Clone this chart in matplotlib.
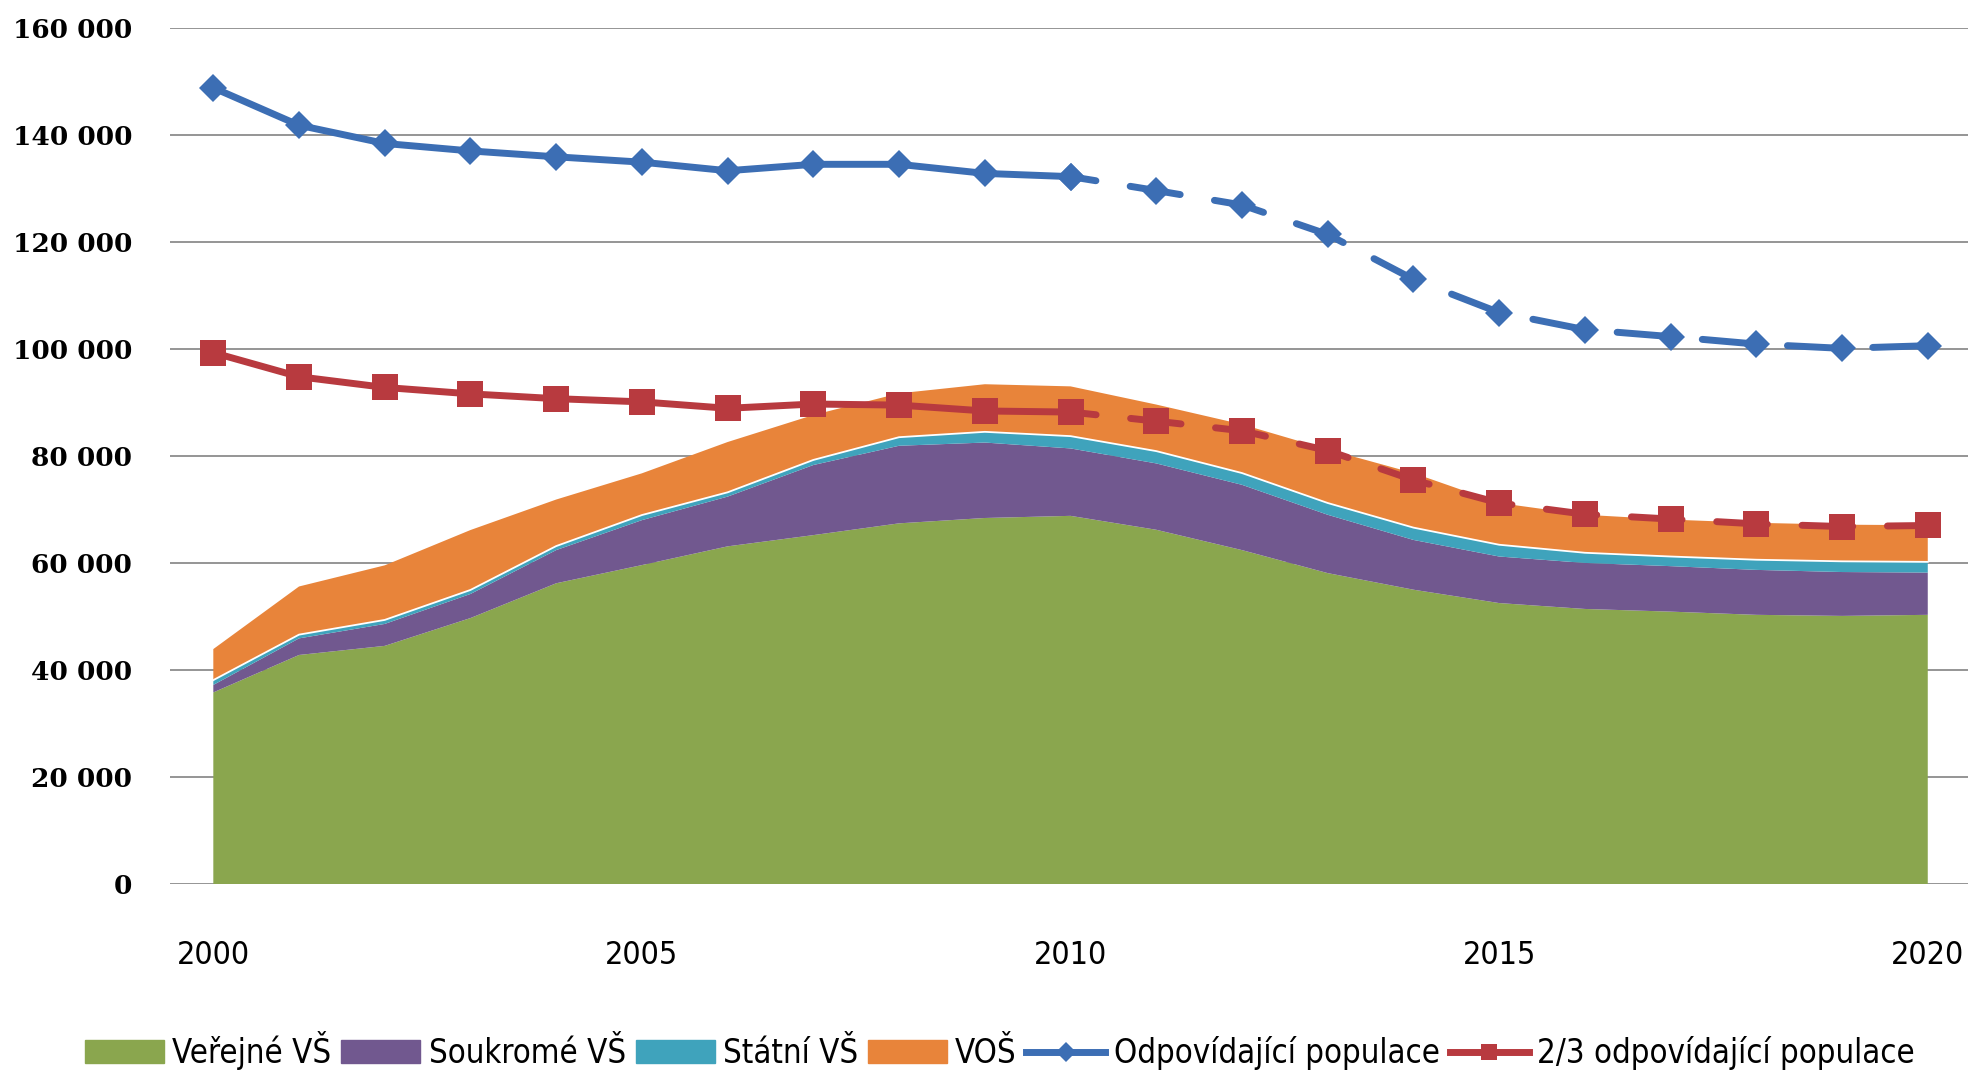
import numpy as np
import matplotlib
matplotlib.use("Agg")
import matplotlib.pyplot as plt
from matplotlib.lines import Line2D
from matplotlib.patches import Patch
from matplotlib.ticker import FuncFormatter
from matplotlib import font_manager as fm

# data
years = list(range(2000, 2021))
verejne = [35800, 42800, 44500, 49700, 56200, 59600, 63100, 65200, 67400, 68400, 68800,
           66200, 62400, 58100, 55000, 52500, 51400, 50900, 50300, 50100, 50300]
soukrome = [1400, 3100, 4100, 4500, 6200, 8400, 9300, 13100, 14500, 14100, 12600,
            12400, 12200, 10900, 9300, 8700, 8600, 8500, 8400, 8200, 7900]
statni = [900, 700, 750, 750, 750, 950, 800, 950, 1600, 2000, 2300,
          2300, 2200, 2200, 2300, 2200, 1900, 1800, 1900, 2000, 2000]
vos = [5800, 9000, 10200, 11200, 8700, 7800, 9400, 8400, 8200, 8900, 9300,
       8700, 9100, 10000, 10200, 7800, 7100, 6900, 6900, 6850, 6850]
populace = [148800, 141800, 138400, 137000, 135900, 134900, 133300, 134500, 134500, 132800, 132200,
            129600, 126900, 121400, 113000, 106800, 103600, 102300, 100900, 100100, 100600]
dve_tretiny = [99300, 94800, 92800, 91600, 90700, 90100, 88900, 89700, 89500, 88400, 88200,
               86500, 84700, 81000, 75500, 71200, 69100, 68200, 67300, 66800, 67000]
labels = ["Veřejné VŠ", "Soukromé VŠ", "Státní VŠ", "VOŠ",
          "Odpovídající populace", "2/3 odpovídající populace"]
xticks = [2000, 2005, 2010, 2015, 2020]
split = 10  # index of 2010, forecast afterwards

c_green = "#8aa64e"
c_purple = "#71588f"
c_cyan = "#3fa3bc"
c_orange = "#e8843a"
c_blue = "#3c6eb4"
c_red = "#b83a3f"

# narrow sans if one is installed
names = {f.name for f in fm.fontManager.ttflist}
cond = [f for f in fm.fontManager.ttflist if f.name == "DejaVu Sans" and f.stretch == "condensed"]
if "Liberation Sans Narrow" in names:
    sans = dict(family="Liberation Sans Narrow")
elif cond:
    sans = dict(family="DejaVu Sans", stretch="condensed")
else:
    sans = dict(family="DejaVu Sans")

fig = plt.figure(figsize=(19.72, 10.72), dpi=100)
ax = fig.add_axes([0.086, 0.1754, 0.912, 0.7986])

ax.stackplot(years, verejne, soukrome, statni, vos,
             colors=[c_green, c_purple, c_cyan, c_orange], linewidth=0, zorder=2)
top_cyan = np.array(verejne) + np.array(soukrome) + np.array(statni)
ax.plot(years, top_cyan, color="white", lw=1.3, zorder=3)

dash = (3.6, (7.3, 5.0))
for vals, col, mk, ms in [(dve_tretiny, c_red, "s", 19), (populace, c_blue, "D", 14)]:
    ax.plot(years[:split + 1], vals[:split + 1], color=col, lw=5, marker=mk, ms=ms,
            mew=0, solid_capstyle="round", zorder=5)
    ax.plot(years[split:], vals[split:], color=col, lw=5, ls=dash, marker=mk, ms=ms,
            mew=0, dash_capstyle="round", zorder=5)

ax.set_ylim(0, 160000)
ax.set_yticks(range(0, 160001, 20000))
ax.yaxis.set_major_formatter(FuncFormatter(lambda v, p: f"{int(v):,}".replace(",", " ")))
ax.set_xlim(1999.49, 2020.47)
ax.set_xticks(xticks)
ax.grid(axis="y", color="#8c8c8c", lw=1.3, zorder=0)
ax.set_axisbelow(True)
for s in ax.spines.values():
    s.set_visible(False)
ax.tick_params(axis="y", length=0, pad=27)
ax.tick_params(axis="x", length=0, pad=40)
for t in ax.get_yticklabels():
    t.set_fontfamily("DejaVu Serif")
    t.set_fontweight("bold")
    t.set_fontsize(19)
xfont = fm.FontProperties(size=23, **sans)
for t in ax.get_xticklabels():
    t.set_fontproperties(xfont)

handles = [Patch(color=c_green), Patch(color=c_purple), Patch(color=c_cyan), Patch(color=c_orange),
           Line2D([], [], color=c_blue, lw=5, marker="D", ms=10, mew=0),
           Line2D([], [], color=c_red, lw=5, marker="s", ms=12, mew=0)]
lsize = 23.7 if sans.get("stretch") or "Narrow" in sans["family"] else 19.5
fig.legend(handles, labels, loc="center", bbox_to_anchor=(0.507, 0.0196), ncol=6, frameon=False,
           handlelength=2.4, handletextpad=0.25, columnspacing=0.3,
           prop=fm.FontProperties(size=lsize, **sans))

fig.savefig("out.png", dpi=100, facecolor="white")
